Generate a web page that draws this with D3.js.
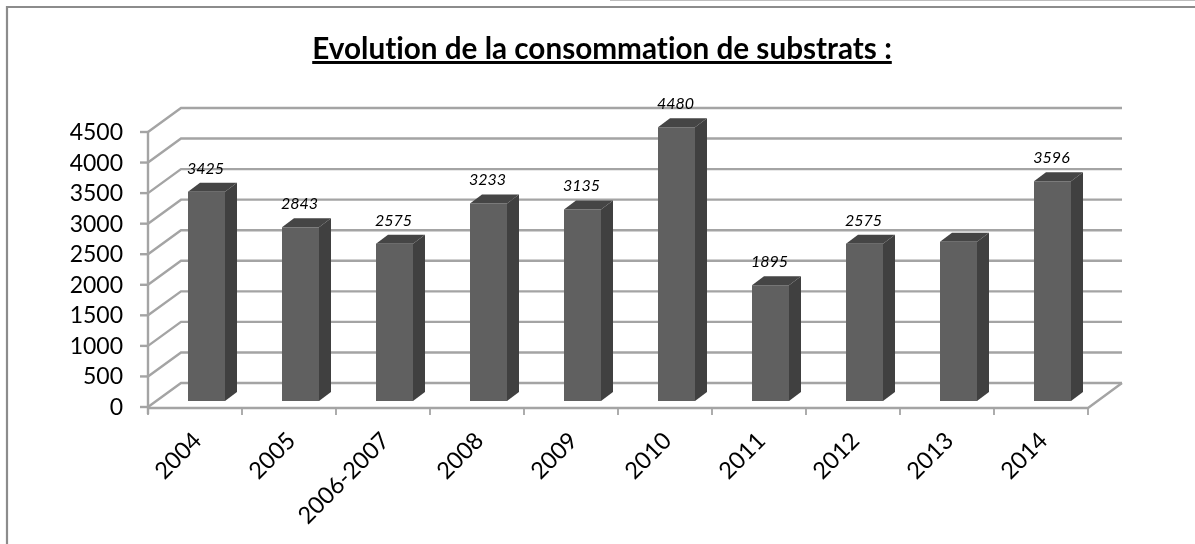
<!DOCTYPE html>
<html><head><meta charset="utf-8">
<script src="https://cdn.jsdelivr.net/npm/d3@7"></script>
<style>html,body{margin:0;padding:0;background:#fff}svg{display:block}text{font-variant-ligatures:none}</style>
</head><body><svg id="c" width="1195" height="544"></svg>
<script>
const categories=["2004","2005","2006-2007","2008","2009","2010","2011","2012","2013","2014"];
const values=[3425,2843,2575,3233,3135,4480,1895,2575,2605,3596];
const labels=["3425","2843","2575","3233","3135","4480","1895","2575","","3596"];
const yTicks=[0,500,1000,1500,2000,2500,3000,3500,4000,4500];
const titleText="Evolution de la consommation de substrats :";

const svg=d3.select("#c");
const font="Lato, Carlito, sans-serif";
const defs=svg.append("defs");
defs.append("filter").attr("id","soft").append("feGaussianBlur").attr("stdDeviation",0.7);
defs.append("filter").attr("id","softText").append("feGaussianBlur").attr("stdDeviation",0.35);

const x=d3.scaleBand().domain(categories).range([148,1088]);
const y=d3.scaleLinear().domain([0,4500]).range([407,132]);
const backDx=33, backDy=-24;
const barW=37, barDx=12, barDy=-9, barOffX=11.5, barBaseDy=-6;

// frame: only the top and left edges are visible
const frame=svg.append("g").attr("filter","url(#soft)");
frame.append("line").attr("x1",7).attr("x2",1195).attr("y1",7).attr("y2",7).attr("stroke","#8c8c8c").attr("stroke-width",2.2);
frame.append("line").attr("x1",7).attr("x2",7).attr("y1",6).attr("y2",544).attr("stroke","#8c8c8c").attr("stroke-width",2.2);
svg.append("line").attr("x1",610).attr("x2",1195).attr("y1",0.5).attr("y2",0.5).attr("stroke","#bdbdbd");

const texts=svg.append("g").attr("filter","url(#softText)");
texts.append("text").attr("x",602).attr("y",59).attr("text-anchor","middle")
 .attr("font-family",font).attr("font-weight",700).attr("font-size",29.7).attr("fill","#000")
 .attr("text-decoration","underline").text(titleText);

const plot=svg.append("g").attr("filter","url(#soft)");
const grid="#a4a4a4";
yTicks.forEach(t=>{
  plot.append("path").attr("fill","none").attr("stroke",grid).attr("stroke-width",2.4)
   .attr("d",d3.line()([[148,y(t)],[148+backDx,y(t)+backDy],[1122,y(t)+backDy]]));
  plot.append("line").attr("x1",140).attr("x2",148).attr("y1",y(t)).attr("y2",y(t)).attr("stroke",grid).attr("stroke-width",2.4);
});
plot.append("line").attr("x1",148).attr("x2",148).attr("y1",y(4500)).attr("y2",y(0)+7).attr("stroke",grid).attr("stroke-width",2.4);
plot.append("path").attr("fill","none").attr("stroke",grid).attr("stroke-width",2.4)
 .attr("d",d3.line()([[148,y(0)+1],[1088,y(0)+1],[1122,y(0)+backDy]]));
categories.forEach(c=>{
  plot.append("line").attr("x1",x(c)).attr("x2",x(c)).attr("y1",y(0)).attr("y2",y(0)+8).attr("stroke",grid).attr("stroke-width",1.8);
});
plot.append("line").attr("x1",1088).attr("x2",1088).attr("y1",y(0)).attr("y2",y(0)+8).attr("stroke",grid).attr("stroke-width",1.8);

// bars
categories.forEach((c,i)=>{
  const cx=x(c)+x.bandwidth()/2;
  const l=cx+barOffX-barW/2, r=l+barW;
  const b=y(0)+barBaseDy, t=y(values[i])+barBaseDy;
  const g=plot.append("g");
  g.append("path").attr("fill","#404040").attr("d",d3.line()([[r,t],[r+barDx,t+barDy],[r+barDx,b+barDy],[r,b]])+"Z");
  g.append("path").attr("fill","#444444").attr("d",d3.line()([[l,t],[l+barDx,t+barDy],[r+barDx,t+barDy],[r,t]])+"Z");
  g.append("rect").attr("x",l).attr("y",t).attr("width",barW).attr("height",b-t).attr("fill","#616161");
  if(labels[i]) texts.append("text").attr("x",(l+r)/2-1).attr("y",t+barDy-9).attr("text-anchor","middle")
    .attr("font-family",font).attr("font-style","italic").attr("font-size",16).attr("fill","#000").text(labels[i]);
});
svg.node().appendChild(texts.node());

yTicks.forEach(t=>{
  texts.append("text").attr("x",123).attr("y",y(t)+8).attr("text-anchor","end")
   .attr("font-family",font).attr("font-size",23).attr("fill","#000").text(t);
});
categories.forEach(c=>{
  const cx=x(c)+x.bandwidth()/2;
  texts.append("text").attr("transform",`translate(${cx+8},${y(0)+35}) rotate(-45)`).attr("text-anchor","end")
   .attr("font-family",font).attr("font-size",23.5).attr("fill","#000").text(c);
});
</script></body></html>
